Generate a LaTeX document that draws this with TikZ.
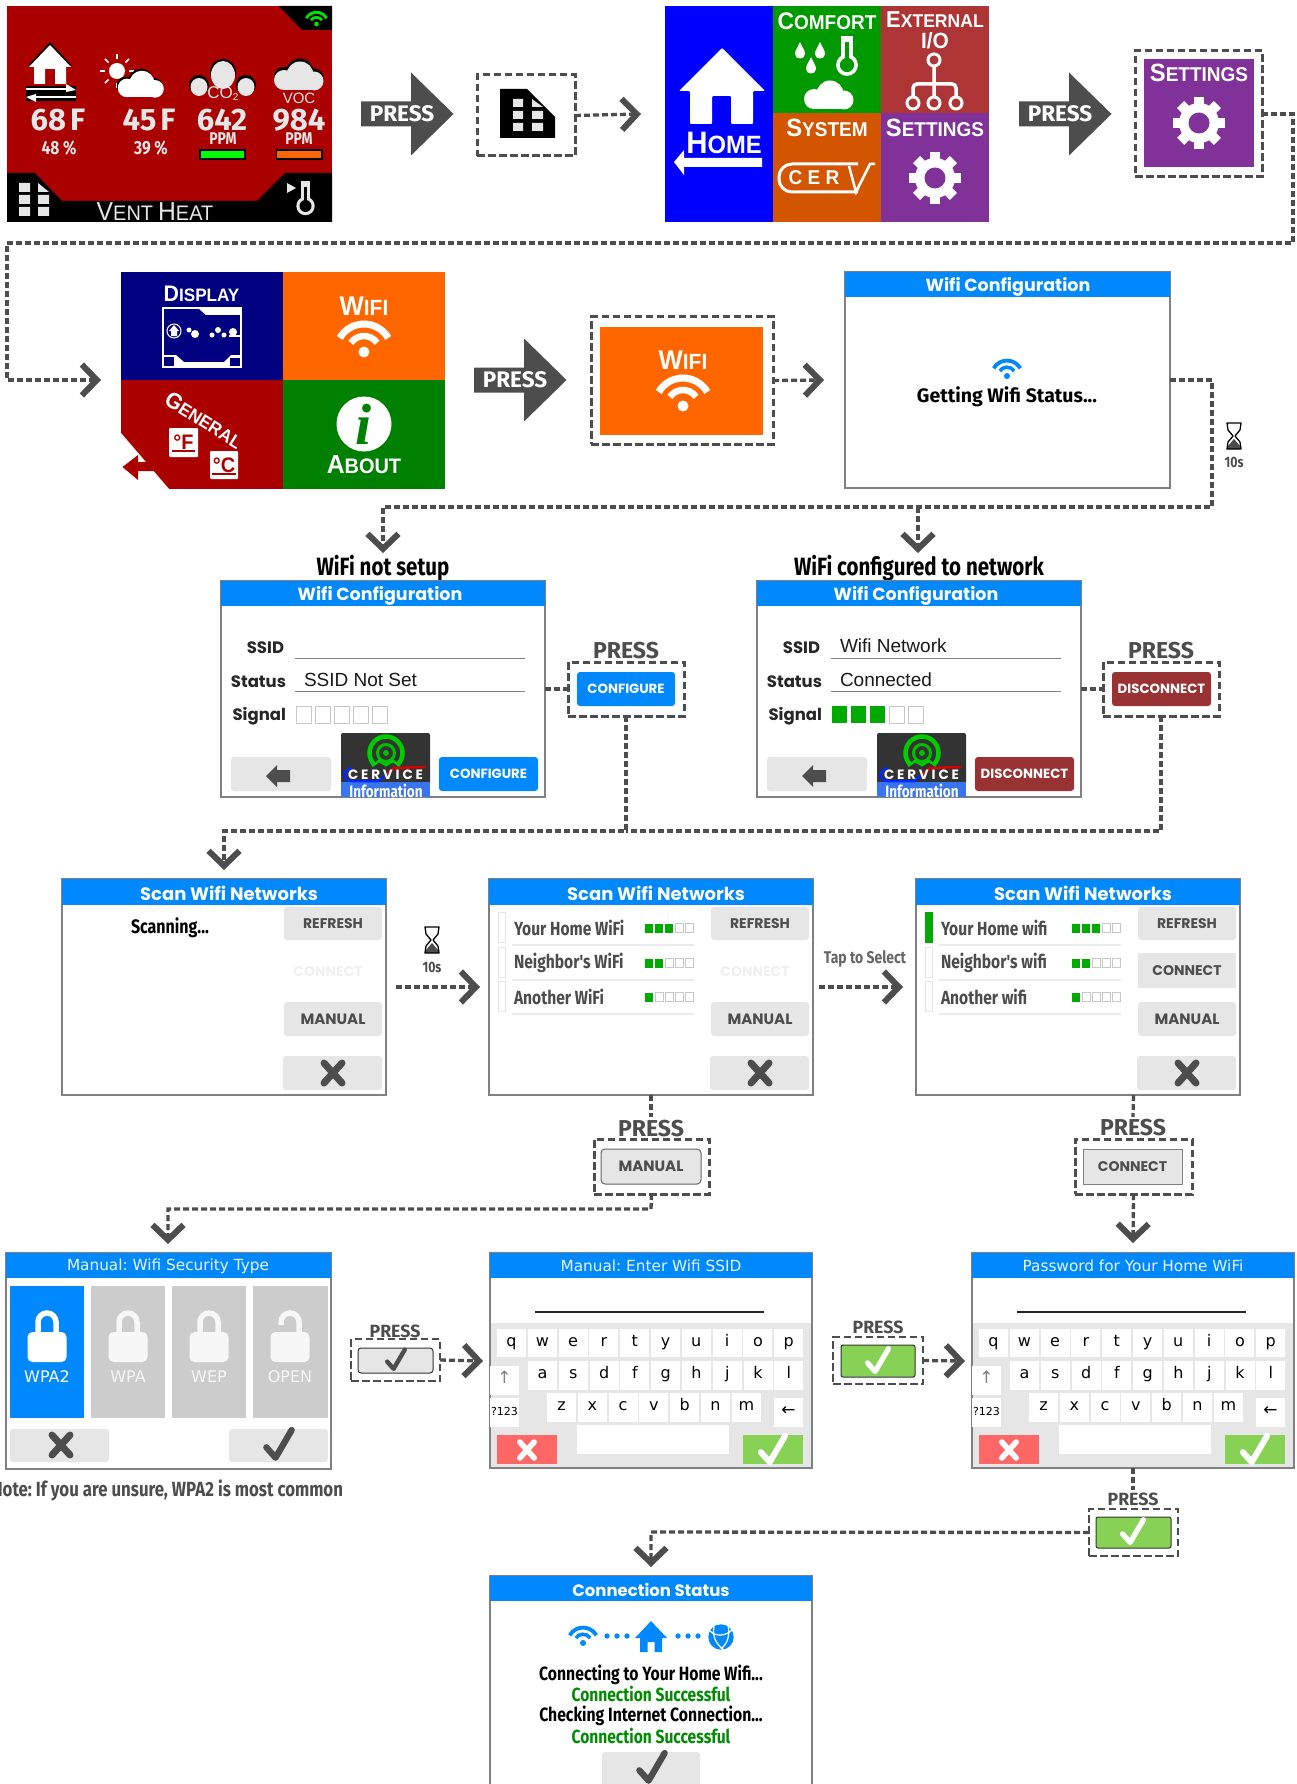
\documentclass[tikz,border=0pt]{standalone}
\usepackage{fontspec}
\usetikzlibrary{arrows.meta,calc}
\frenchspacing
\setmainfont{Liberation Sans}
\newfontfamily\ttlf{Poppins}
\newfontfamily\narf[FakeStretch=0.82]{Fira Sans}
\newfontfamily\firaw{Fira Sans}
\newfontfamily\djv{DejaVu Sans}
\newfontfamily\capf[FakeStretch=0.95]{Liberation Sans}
\definecolor{dk}{HTML}{4D4D4D}
\definecolor{bb}{HTML}{0088FF}
\definecolor{lg}{HTML}{E6E6E6}
\definecolor{okg}{HTML}{87D255}
\definecolor{sig}{HTML}{00AA00}
\definecolor{hred}{HTML}{AA0000}
\definecolor{infob}{HTML}{3A75F0}
\newcommand\fz[1]{\fontsize{#1}{#1}\selectfont}
\newcommand\smc[4]{{\fz{#1}#3\fz{#2}#4}}
\newcount\tcnt
\newcommand\tx[4]{\global\advance\tcnt by 1 \node[txt,#1] (t\the\tcnt) at (#2,#3) {#4};}
\newcommand\rnode[7]{%
 \pgfmathsetmacro\rnW{(#5)-(#3)}\pgfmathsetmacro\rnH{(#6)-(#4)}%
 \pgfmathsetmacro\rnX{((#3)+(#5))/2}\pgfmathsetmacro\rnY{((#4)+(#6))/2}%
 \node[rectangle,inner sep=0pt,outer sep=0pt,minimum width=\rnW pt,minimum height=\rnH pt,#1] (#2) at (\rnX,\rnY) {#7};}
\tikzset{
 txt/.style={inner sep=0pt,outer sep=0pt},
 conn/.style={draw=dk,line width=3.3pt,dash pattern=on 6pt off 3pt,-{Straight Barb[length=15pt,width=31pt,line width=6pt]}},
 dline/.style={draw=dk,line width=3.3pt,dash pattern=on 6pt off 3pt},
 dbox/.style={draw=dk,line width=3pt,dash pattern=on 7.5pt off 3.5pt},
 scr/.style={draw=gray,line width=1.2pt,fill=white},
 hdr/.style={fill=bb,text=white},
 btn/.style={fill=lg,rounded corners=3pt,text=dk},
 key/.style={fill=white,text=black,text height=9pt,text depth=3pt},
 btnf/.style={font=\ttlf\bfseries\fz{14}},
 ttl/.style={font=\ttlf\bfseries,text=white},
 lab/.style={font=\firaw\bfseries,text=dk},
}
% wifi icon: origin at dot
\newcommand\wifi[4]{\begin{scope}[shift={(#1,#2)},y=1pt,scale=#3]
 \fill[#4] (0,0) circle[radius=5.5];
 \draw[#4,line width=#3*6.5pt] (35:16) arc (35:145:16);
 \draw[#4,line width=#3*7pt] (30:28) arc (30:150:28);
\end{scope}}
\newcommand\gear[5]{\begin{scope}[shift={(#1,#2)},scale=#3]
 \fill[#4] (0,0) circle[radius=20];
 \foreach \a in {0,45,...,315} {\fill[#4,rotate=\a] (-5,-26) rectangle (5,0);}
 \fill[#5] (0,0) circle[radius=10.5];
\end{scope}}
\newcommand\cloud[4]{\begin{scope}[shift={(#1,#2)},y=1pt,scale=#3]
 \fill[#4] (-15,-1) circle[radius=10];
 \fill[#4] (1,4) circle[radius=13.5];
 \fill[#4] (15,-2) circle[radius=9.5];
 \fill[#4] (-15,-11) rectangle (15,0);
\end{scope}}
\newcommand\thermo[5]{\begin{scope}[shift={(#1,#2)},scale=#3]
 \fill[#4] (-6,-31) rectangle (6,-6);
 \fill[#4] (0,0) circle[radius=11.5];
 \fill[#5] (0,0) circle[radius=7.5];
 \fill[#5] (-2,-24) rectangle (2,-5);
\end{scope}}
\newcommand\drop[2]{\begin{scope}[shift={(#1,#2)}]
 \fill[white] (0,-10) .. controls (2,-5) and (5,-2) .. (5,2) .. controls (5,8) and (-5,8) .. (-5,2) .. controls (-5,-2) and (-2,-5) .. (0,-10) -- cycle;
\end{scope}}
\newcommand\xmk[4]{\begin{scope}[shift={(#1,#2)},scale=#3]
 \draw[#4,line width=#3*7pt,line cap=round] (-9,-10) -- (9,10) (9,-10) -- (-9,10);
\end{scope}}
\newcommand\ckm[4]{\begin{scope}[shift={(#1,#2)},scale=#3]
 \draw[#4,line width=#3*5.5pt,line cap=round,line join=round] (-11,2) -- (-3,11) -- (11,-13);
\end{scope}}
\newcommand\hglass[2]{\begin{scope}[shift={(#1,#2)}]
 \fill[dk] (0,3) -- (6,10) -- (6,13) -- (-6,13) -- (-6,10) -- cycle;
 \draw[black,line width=1.3pt,line join=round] (-7,-13) -- (7,-13) -- (6,-6) -- (1,0) -- (6,6) -- (7,13) -- (-7,13) -- (-6,6) -- (-1,0) -- (-6,-6) -- cycle;
\end{scope}}
\newcommand\press[3]{\begin{scope}[shift={(#2,#3)}]
 \fill[dk] (0,-12.5) -- (50,-12.5) -- (50,-41.5) -- (92.5,0) -- (50,41.5) -- (50,12.5) -- (0,12.5) -- cycle;
 \node[txt,text=white,font=\firaw\bfseries\fz{22.5}] (#1) at (41,0) {PRESS};
\end{scope}}
\newcommand\sigsq[6]{% x y n w h pitch
 \foreach \i in {1,...,5} {
  \pgfmathsetmacro\sx{#1+(\i-1)*#6}
  \ifnum\i>#3\relax \draw[draw=black!22,fill=white,line width=.9pt] (\sx,#2) rectangle ++(#4,#5);
  \else \fill[sig] (\sx,#2) rectangle ++(#4,#5); \fi}}
\newcommand\gridicon[3]{\begin{scope}[shift={(#1,#2)}]
 \fill[#3] (0,0) rectangle (11,9) (0,12) rectangle (11,21) (0,24) rectangle (11,33);
 \fill[#3] (19,12) rectangle (30,21) (19,24) rectangle (30,33);
 \fill[#3] (19,0) -- (30,9) -- (19,9) -- cycle;
\end{scope}}
\newcommand\wifiscr[8]{% name dx ssid status n btnlabel btncolor heading
 \begin{scope}[shift={(#2,0)}]
 \rnode{scr}{#1}{221}{581}{545}{797}{}
 \rnode{hdr}{#1h}{221}{581}{545}{606}{}
 \tx{ttl,font=\ttlf\bfseries\fz{17.5}}{380}{596}{Wifi Configuration}
 \tx{anchor=east,font=\ttlf\bfseries\fz{16.5},text=black!85}{284}{648}{SSID}
 \tx{anchor=east,font=\ttlf\bfseries\fz{16.5},text=black!85}{286}{682}{Status}
 \tx{anchor=east,font=\ttlf\bfseries\fz{16.5},text=black!85}{286}{716}{Signal}
 \draw[gray,line width=1pt] (295,658) -- (525,658) (295,691) -- (525,691);
 \tx{anchor=west,font=\fz{19},text=black!90}{304}{680}{#4}
 \tx{anchor=west,font=\fz{19},text=black!90}{304}{646}{#3}
 \sigsq{296}{706}{#5}{15}{17}{19}
 \rnode{btn}{#1b}{231}{757}{331}{791}{}
 \fill[dk] (266,776) -- (277,765) -- (277,770) -- (290,770) -- (290,782) -- (277,782) -- (277,787) -- cycle;
 % logo
 \fill[black!80,rounded corners=2pt] (341,733) rectangle (430,784);
 \fill[infob] (341,782) rectangle (430,797);
 \tx{text=white,font=\narf\bfseries\fz{16.5}}{386}{790.5}{Information}
 \begin{scope}[shift={(386,753)},y=1pt]
  \draw[green!80!black,line width=4.5pt] (-45:16.5) arc (-45:225:16.5);
  \draw[green!75!black,line width=3pt] (0,0) circle[radius=8.5];
  \fill[green!75!black] (0,0) circle[radius=3];
  \draw[green!80!black,line width=2.5pt] (-14,-13) -- (-7,-8) -- (0,-12) -- (7,-8) -- (14,-13);
 \end{scope}
 \draw[blue!70!bb,line width=2.5pt] (352,768) .. controls (342,770) and (342,781) .. (352,781) -- (378,781) -- (387,774);
 \draw[red!85!black,line width=2.5pt] (387,774) -- (394,768) -- (425,767);
 \tx{text=white,font=\ttlf\bfseries\fz{13.5}}{385.5}{775}{C E R V I C E}
 \rnode{fill=#7,text=white,rounded corners=3pt,btnf,font=\ttlf\bfseries\fz{13.3}}{#1c}{439}{757}{538}{791}{#6}
 \end{scope}}
\newcommand\scanscr[2]{% name dx
 \begin{scope}[shift={(#2,0)}]
 \rnode{scr}{#1}{62}{879}{386}{1095}{}
 \rnode{hdr}{#1h}{62}{879}{386}{905}{}
 \tx{ttl,font=\ttlf\bfseries\fz{18}}{229}{893}{Scan Wifi Networks}
 \rnode{btn,btnf}{#1r}{284}{907}{382}{940}{REFRESH}
 \rnode{btn,btnf,font=\ttlf\bfseries\fz{15}}{#1m}{284}{1002}{382}{1036}{MANUAL}
 \rnode{btn}{#1x}{283}{1056}{382}{1090}{}
 \xmk{333}{1073}{1}{dk}
 \end{scope}}
\newcommand\netrow[6]{% dx y text n tick-color slot
 \begin{scope}[shift={(#1,0)}]
 \pgfmathsetmacro\ya{#2-16}\pgfmathsetmacro\yb{#2+14}\pgfmathsetmacro\ys{#2+17}\pgfmathsetmacro\yq{#2-4.5}
 \draw[draw=#6,fill=#5,line width=.9pt] (71,\ya) rectangle (78,\yb);
 \draw[black!8,line width=1.8pt] (85,\ys) -- (267,\ys);
 \tx{anchor=west,text=black!70,font=\narf\bfseries\fz{19}}{87}{#2}{#3}
 \sigsq{218}{\yq}{#4}{8}{9}{10}
 \end{scope}}
\newcommand\keyboard[3]{% name dx title
 \begin{scope}[shift={(#2,0)}]
 \rnode{scr}{#1}{490}{1253}{812}{1468}{}
 \rnode{fill=lg}{#1g}{490}{1323}{812}{1468}{}
 \draw[gray,line width=1.2pt] (490,1253) rectangle (812,1468);
 \rnode{hdr,font=\djv\fz{15.3},text=white!92!bb}{#1h}{490}{1253}{812}{1278}{#3}
 \draw[black!85,line width=2pt] (535,1312) -- (764,1312);
 \foreach \c [count=\i from 0] in {q,w,e,r,t,y,u,i,o,p} {\rnode{key,font=\djv\fz{16}}{#1k\c}{497+30.8*\i}{1329}{526+30.8*\i}{1357}{\c}}
 \foreach \c [count=\i from 0] in {a,s,d,f,g,h,j,k,l} {\rnode{key,font=\djv\fz{16}}{#1k\c}{528+30.8*\i}{1361}{557+30.8*\i}{1390}{\c}}
 \foreach \c [count=\i from 0] in {z,x,c,v,b,n,m} {\rnode{key,font=\djv\fz{16}}{#1k\c}{547+30.8*\i}{1393}{576+30.8*\i}{1422}{\c}}
 \rnode{key,font=\djv\fz{17},text=gray}{#1up}{490}{1366}{519}{1395}{↑}
 \rnode{key,font=\djv\fz{11}}{#1num}{490}{1398}{519}{1427}{?123}
 \rnode{key,font=\djv\fz{17}}{#1bk}{774}{1398}{803}{1427}{←}
 \rnode{fill=white}{#1sp}{577}{1425}{729}{1454}{}
 \rnode{fill=red!60!white}{#1no}{497}{1435}{557}{1464}{}
 \rnode{fill=okg}{#1ok}{743}{1435}{803}{1464}{}
 \xmk{527}{1450}{.8}{white}
 \ckm{773}{1450}{1.1}{white}
 \end{scope}}
\newcommand\lockic[3]{\begin{scope}[shift={(#1,1322)},y=1pt]
 \ifnum#3=0 \draw[#2,line width=5.5pt] (-9,-14) -- (-9,0) arc (180:0:9) -- (9,-14);
 \else \draw[#2,line width=5.5pt] (9,-14) -- (9,0) arc (0:180:9) -- (-9,-3); \fi
 \fill[#2,rounded corners=5pt] (-19.5,-40) rectangle (19.5,-10);
\end{scope}}
\begin{document}
\begin{tikzpicture}[x=1pt,y=-1pt]
\useasboundingbox (0,0) rectangle (1296,1784);
\clip (0,0) rectangle (1296,1784);
\fill[white] (0,0) rectangle (1296,1784);

%% ---------- Home panel
\rnode{fill=hred}{home}{7}{6}{332}{222}{}
\fill[black] (279,6) -- (332,6) -- (332,30) -- (302,30) -- cycle;
\wifi{316.5}{24}{.42}{green!90!black}
\fill[black] (7,173) -- (35,173) -- (62,201) -- (257,201) -- (285,173) -- (332,173) -- (332,222) -- (7,222) -- cycle;
\gridicon{19}{183}{lg}
\tx{text=lg,font=\capf}{155}{212}{\smc{26}{21}{V}{ENT}\hspace{5pt}\smc{26}{21}{H}{EAT}}
\fill[lg] (287,183) -- (296,188) -- (287,193) -- cycle;
\thermo{305.5}{206}{.8}{lg}{black}
% house
\fill[black] (50,42) -- (72,66) -- (28,66) -- cycle;
\fill[white] (50,45) -- (71,67) -- (66,67) -- (66,84) -- (55,84) -- (55,69) -- (45,69) -- (45,84) -- (34,84) -- (34,67) -- (29,67) -- cycle;
\fill[black] (26,86) rectangle (76,101);
\draw[white,line width=2.5pt] (26,89) -- (73,89);
\fill[white] (66,84) -- (76,90) -- (66,92) -- cycle;
\draw[white,line width=2.5pt] (29,97) -- (76,97);
\fill[white] (36,94) -- (26,97) -- (36,102) -- cycle;
\fill[white] (117,71) circle[radius=8];
\foreach \a in {0,45,...,315} {\draw[white,line width=1.5pt] (117,71) ++(\a:12) -- ++(\a:5);}
\cloud{140}{85}{.93}{black}
\cloud{141}{87}{.93}{white}
\fill[black] (223,72) circle[radius=13];
\fill[black] (199,85) circle[radius=10];
\fill[black] (246,85) circle[radius=10];
\fill[lg] (223,75) ellipse[x radius=12,y radius=14];
\fill[lg] (199,87) ellipse[x radius=8.5,y radius=9];
\fill[lg] (246,87) ellipse[x radius=8.5,y radius=9];
\cloud{299}{76}{1}{black}
\cloud{299}{79}{1}{lg}
\tx{text=lg,font=\fz{17}}{223}{94}{CO\raisebox{-2pt}{\fz{10}2}}
\tx{text=lg,font=\fz{15}}{299}{98}{VOC}
\tx{text=lg,font=\firaw\bfseries\fz{31}}{58}{120}{68\hspace{4pt}F}
\tx{text=lg,font=\firaw\bfseries\fz{31}}{149}{120}{45\hspace{4pt}F}
\tx{text=lg,font=\firaw\bfseries\fz{31}}{222}{120}{642}
\tx{text=lg,font=\firaw\bfseries\fz{31}}{299}{120}{984}
\tx{text=lg,font=\narf\bfseries\fz{19}}{59}{148}{48 \%}
\tx{text=lg,font=\narf\bfseries\fz{19}}{151}{148}{39 \%}
\tx{text=lg,font=\narf\bfseries\fz{17}}{223}{139}{PPM}
\tx{text=lg,font=\narf\bfseries\fz{17}}{299}{139}{PPM}
\rnode{fill=green,draw=black,line width=1.2pt}{barco}{200}{150}{245}{159}{}
\rnode{fill=orange!80!red,draw=black,line width=1.2pt}{barvoc}{276.5}{150}{322}{159}{}

\press{pressa}{361}{114}
\rnode{dbox}{gridbox}{477}{75}{575}{156}{}
\fill[black] (500,89) -- (527,89) -- (555,117) -- (555,138) -- (500,138) -- cycle;
\fill[lg] (513,99) rectangle (523,107) (513,111) rectangle (523,119) (513,123) rectangle (523,131) (532,111) rectangle (543,119) (532,123) rectangle (543,131);
\fill[lg] (532,99) -- (543,107) -- (532,107) -- cycle;
\coordinate (tipa) at (641,114);
\draw[conn] (gridbox.east) -- (tipa);

%% ---------- Menu panel
\definecolor{purp}{HTML}{803299}
\definecolor{brick}{HTML}{AE3535}
\definecolor{sysor}{HTML}{D45500}
\rnode{fill=blue}{mhome}{664.5}{6}{773}{222}{}
\rnode{fill=green!60!black}{mcomf}{773}{6}{881}{113}{}
\rnode{fill=brick}{mext}{881}{6}{989}{113}{}
\rnode{fill=sysor}{msys}{773}{113}{881}{222}{}
\rnode{fill=purp}{mset}{881}{113}{989}{222}{}
\fill[white,rounded corners=1pt] (722,48) -- (765,91) -- (753,91) -- (753,124) -- (731,124) -- (731,96) -- (712,96) -- (712,124) -- (690,124) -- (690,91) -- (679,91) -- cycle;
\tx{text=white,font=\capf\bfseries}{724}{143}{\smc{31}{25}{H}{OME}}
\fill[white] (762,158) -- (684,158) -- (684,150) -- (674,162) -- (684,175) -- (684,167) -- (762,167) -- cycle;
\tx{text=white,font=\capf\bfseries}{827}{21}{\smc{24}{20}{C}{OMFORT}}
\drop{800}{52} \drop{820}{52} \drop{811}{67}
\thermo{847}{65}{.95}{white}{green!60!black}
\cloud{829}{98}{1}{white}
\tx{text=white,font=\capf\bfseries}{935}{20}{\smc{23}{18.5}{E}{XTERNAL}}
\tx{text=white,font=\capf\bfseries\fz{22}}{935}{41}{I/O}
\draw[white,line width=3pt] (934,60) circle[radius=6] (913,103) circle[radius=6] (934,103) circle[radius=6] (956,103) circle[radius=6];
\draw[white,line width=3.5pt,rounded corners=4pt] (934,66) -- (934,97) (913,97) -- (913,84) -- (956,84) -- (956,97);
\tx{text=white,font=\capf\bfseries}{827}{128}{\smc{25}{20}{S}{YSTEM}}
\draw[white,line width=3pt,rounded corners=13pt] (858,164) -- (779,164) -- (779,192) -- (858,192);
\tx{text=white,font=\capf\bfseries\fz{20}}{814}{178}{C E R}
\draw[white,line width=2.5pt] (849,166) -- (856,192) -- (870,164) -- (875,164);
\tx{text=white,font=\capf\bfseries}{935}{128}{\smc{25}{20}{S}{ETTINGS}}
\gear{935}{178}{1}{white}{purp}

\press{pressb}{1019}{114}
\rnode{dbox}{setbox}{1135}{51}{1262}{177}{}
\rnode{fill=purp}{setin}{1144}{59}{1254}{167}{}
\tx{text=white,font=\capf\bfseries}{1199}{73}{\smc{25}{20}{S}{ETTINGS}}
\gear{1199}{123}{1}{white}{purp}
\coordinate (tr) at (1293,243);
\coordinate (lft) at (7,380);
\coordinate (tipb) at (101,380);
\draw[conn] (setbox.east) -| (tr) -- (tr -| lft) -- (lft) -- (tipb);

%% ---------- Settings panel
\definecolor{wor}{HTML}{FF6600}
\rnode{fill=blue!50!black}{sdisp}{121}{272}{283}{380}{}
\rnode{fill=wor}{swifi}{283}{272}{445}{380}{}
\rnode{fill=hred}{sgen}{121}{380}{283}{489}{}
\rnode{fill=green!50!black}{sabout}{283}{380}{445}{489}{}
\tx{text=white,font=\capf\bfseries}{201.5}{294}{\smc{22.5}{18}{D}{ISPLAY}}
\draw[white,line width=1.3pt] (163,308) rectangle (241,367);
\fill[white] (198,308) -- (206,315) -- (241,315) -- (241,308) -- cycle;
\fill[white] (163,355) -- (176,355) -- (184,362) -- (224,362) -- (231,355) -- (241,355) -- (241,367) -- (163,367) -- cycle;
\draw[white,line width=1pt] (174,331) circle[radius=7];
\fill[white] (174,325) -- (179,331) -- (177,331) -- (177,336) -- (171,336) -- (171,331) -- (169,331) -- cycle;
\fill[white] (195,334) circle[radius=4];
\fill[white] (189,330) circle[radius=2.5];
\fill[white] (212,335) circle[radius=2.5];
\fill[white] (218,330) circle[radius=3];
\fill[white] (224,335) circle[radius=2.5];
\fill[white] (233,332) circle[radius=4];
\fill[white] (229,335) rectangle (240,337);
\fill[blue!50!black] (164,357) rectangle (174,366);
\fill[blue!50!black] (230,358) rectangle (240,366);
\tx{text=white,font=\capf\bfseries}{364}{306}{\smc{27}{22}{W}{IFI}}
\wifi{364}{352}{1}{white}
\tx{text=white,font=\capf\bfseries,rotate=-32}{204}{420}{\smc{22.5}{18}{G}{ENERAL}}
\fill[white] (121,433) -- (169,489) -- (121,489) -- cycle;
\fill[hred] (122.5,467) -- (138,455) -- (138,462) -- (155,462) -- (155,471) -- (138,471) -- (138,480) -- cycle;
\rnode{fill=white,rounded corners=1pt,text=hred,font=\capf\bfseries\fz{21}}{degf}{169}{428}{198}{457}{°F}
\draw[hred,line width=2pt] (172,451) -- (195,451);
\rnode{fill=white,rounded corners=1pt,text=hred,font=\capf\bfseries\fz{21}}{degc}{210}{451}{238}{479}{°C}
\draw[hred,line width=2pt] (212,474) -- (236,474);
\fill[white] (364,424) circle[radius=27.5];
\tx{text=green!50!black,font=\fontspec{Liberation Serif}\bfseries\itshape\fz{58}}{364}{424}{i}
\tx{text=white,font=\capf\bfseries}{364}{465}{\smc{26}{21}{A}{BOUT}}

\press{pressc}{474}{380}
\rnode{dbox}{wbox}{591}{317}{773}{444}{}
\rnode{fill=wor}{wbin}{600}{327}{763}{435}{}
\tx{text=white,font=\capf\bfseries}{683}{360}{\smc{27}{22}{W}{IFI}}
\wifi{683}{406}{1}{white}
\coordinate (tipc) at (824,380);
\draw[conn] (wbox.east) -- (tipc);

%% ---------- Getting status
\rnode{scr}{getscr}{845}{272}{1170}{488}{}
\rnode{hdr}{geth}{845}{272}{1170}{297}{}
\tx{ttl,font=\ttlf\bfseries\fz{17.5}}{1008}{287}{Wifi Configuration}
\wifi{1007}{376}{.55}{bb}
\tx{font=\firaw\bfseries\fz{19.5},text=black}{1007}{397}{Getting Wifi Status...}
\hglass{1234}{436}
\tx{font=\narf\bfseries\fz{15},text=dk}{1234}{462}{10s}
\coordinate (gr) at (1212,507);
\coordinate (gl) at (383,507);
\coordinate (gm) at (918,507);
\coordinate (tipd) at (383,553);
\coordinate (tipe) at (918,553);
\draw[conn] (getscr.east) -| (gr) -- (gl) -- (tipd);
\draw[conn] (gm) -- (tipe);

%% ---------- Wifi not setup / configured
\tx{font=\narf\bfseries\fz{25},text=black}{383}{568}{WiFi not setup}
\tx{font=\narf\bfseries\fz{25},text=black}{919}{568}{WiFi configured to network}
\wifiscr{cfga}{0}{}{SSID Not Set}{0}{CONFIGURE}{bb}{}
\definecolor{disc}{HTML}{993333}
\wifiscr{cfgb}{536}{Wifi Network}{Connected}{3}{DISCONNECT}{disc}{}
\tx{lab,font=\firaw\bfseries\fz{23}}{626}{651}{PRESS}
\rnode{dbox}{cbox}{568}{662}{684}{716}{}
\rnode{fill=bb,text=white,rounded corners=3pt,btnf,font=\ttlf\bfseries\fz{13.3}}{cbtn}{577}{672}{675}{706}{CONFIGURE}
\tx{lab,font=\firaw\bfseries\fz{23}}{1161}{651}{PRESS}
\rnode{dbox}{dbox2}{1103}{662}{1219}{716}{}
\rnode{fill=disc,text=white,rounded corners=3pt,btnf,font=\ttlf\bfseries\fz{13.3}}{dbtn}{1112}{672}{1211}{706}{DISCONNECT}
\coordinate (hz) at (626,831);
\coordinate (hzl) at (224,831);
\coordinate (hzr) at (1161,831);
\coordinate (tipf) at (224,870);
\draw[dline] (cfga.east |- cbox.west) -- (cbox.west);
\draw[dline] (cfgb.east |- dbox2.west) -- (dbox2.west);
\draw[conn] (cbox.south) -- (hz) -- (hzl) -- (tipf);
\draw[dline] (dbox2.south) -- (hzr) -- (hz);

%% ---------- Scan screens
\scanscr{sca}{0}
\scanscr{scb}{427}
\scanscr{scc}{854}
\tx{font=\narf\bfseries\fz{19.5},text=black}{170}{928}{Scanning...}
\tx{font=\ttlf\bfseries\fz{14},text=black!6}{328}{972}{CONNECT}
\tx{font=\ttlf\bfseries\fz{14},text=black!6}{755}{972}{CONNECT}
\netrow{427}{928}{Your Home WiFi}{3}{white}{black!10}
\netrow{427}{963}{Neighbor's WiFi}{2}{white}{black!10}
\netrow{427}{997}{Another WiFi}{1}{white}{black!10}
\netrow{854}{928}{Your Home wifi}{3}{sig}{sig}
\netrow{854}{963}{Neighbor's wifi}{2}{white}{black!10}
\netrow{854}{997}{Another wifi}{1}{white}{black!10}
\rnode{fill=lg,text=dk,btnf}{sccc}{1138}{953}{1236}{988}{CONNECT}
\hglass{432}{940}
\tx{font=\narf\bfseries\fz{15},text=dk}{432}{967}{10s}
\tx{font=\narf\bfseries\fz{17},text=black!60}{865}{959}{Tap to Select}
\coordinate (sa) at (396,987);
\coordinate (tipg) at (480,987);
\coordinate (sb) at (819,987);
\coordinate (tiph) at (903,987);
\draw[conn] (sa) -- (tipg);
\draw[conn] (sb) -- (tiph);

\tx{lab,font=\firaw\bfseries\fz{23}}{651}{1129}{PRESS}
\rnode{dbox}{mbox}{594}{1139}{709}{1194}{}
\rnode{btn,draw=black!60,line width=1pt,rounded corners=4pt,btnf,font=\ttlf\bfseries\fz{15}}{mbtn}{601}{1149}{701}{1184}{MANUAL}
\tx{lab,font=\firaw\bfseries\fz{23}}{1133}{1128}{PRESS}
\rnode{dbox}{nbox}{1075}{1139}{1192}{1194}{}
\rnode{fill=lg,text=dk,draw=gray,line width=1pt,btnf}{nbtn}{1083}{1149}{1182}{1184}{CONNECT}
\coordinate (ma) at (651,1117);
\coordinate (na) at (1133,1117);
\draw[dline] (scb.south) -- (ma);
\draw[dline] (nbox |- scc.south) -- (na);
\coordinate (mr) at (651,1209);
\coordinate (ml) at (168,1209);
\coordinate (tipi) at (168,1244);
\coordinate (tipj) at (1133,1243);
\draw[conn] (mbox.south) -- (mr) -- (ml) -- (tipi);
\draw[conn] (nbox.south) -- (tipj);

%% ---------- Security type
\rnode{scr}{sec}{6}{1253}{331}{1469}{}
\rnode{hdr}{sech}{6}{1253}{331}{1278}{}
\tx{font=\djv\fz{15.3},text=white!92!bb}{168}{1266}{Manual: Wifi Security Type}
\rnode{fill=bb}{ta}{10}{1286}{84}{1418}{}
\rnode{fill=black!20}{tb}{91}{1286}{165}{1418}{}
\rnode{fill=black!20}{tc}{172}{1286}{246}{1418}{}
\rnode{fill=black!20}{td}{253}{1286}{328}{1418}{}
\lockic{47}{white}{0}
\lockic{128}{white!85!black!20}{0}
\lockic{209}{white!85!black!20}{0}
\lockic{290}{white!85!black!20}{1}
\tx{font=\djv\fz{16},text=white}{47}{1377}{WPA2}
\tx{font=\djv\fz{16},text=white!85!black!20}{128}{1377}{WPA}
\tx{font=\djv\fz{16},text=white!85!black!20}{209}{1377}{WEP}
\tx{font=\djv\fz{16},text=white!85!black!20}{290}{1377}{OPEN}
\rnode{btn}{secx}{10}{1429}{109}{1462}{}
\rnode{btn}{secc}{229}{1429}{328}{1462}{}
\xmk{61}{1445}{1}{dk}
\ckm{279}{1445}{1.15}{dk}
\tx{anchor=east,font=\narf\bfseries\fz{20.5},text=dk}{343}{1490}{Note: If you are unsure, WPA2 is most common}
\tx{lab,font=\firaw\bfseries\fz{17.7}}{395}{1331}{PRESS}
\rnode{dbox,line width=2.4pt}{pbox}{351}{1339}{440}{1381}{}
\rnode{btn,draw=black!80,line width=1pt}{pbtn}{358}{1348}{433}{1373}{}
\ckm{396}{1360}{.8}{dk}
\coordinate (tipk) at (483,1361);
\draw[conn] (pbox.east) -- (tipk);

%% ---------- Keyboards
\keyboard{kba}{0}{Manual: Enter Wifi SSID}
\keyboard{kbb}{482}{Password for Your Home WiFi}
\tx{lab,font=\firaw\bfseries\fz{17.7}}{878}{1327}{PRESS}
\rnode{dbox,line width=2.4pt}{qbox}{833}{1337}{923}{1384}{}
\rnode{fill=okg,draw=black!80,line width=1pt,rounded corners=2pt}{qbtn}{841}{1345}{915}{1377}{}
\ckm{878}{1361}{.95}{white}
\coordinate (tipl) at (965,1361);
\draw[conn] (qbox.east) -- (tipl);
\coordinate (ka) at (1133,1490);
\draw[dline] (kbb.south) -- (ka);
\tx{lab,font=\firaw\bfseries\fz{17.7}}{1133}{1499}{PRESS}
\rnode{dbox,line width=2.4pt}{rbox}{1089}{1509}{1178}{1556}{}
\rnode{fill=okg,draw=black!80,line width=1pt,rounded corners=2pt}{rbtn}{1096}{1517}{1171}{1548}{}
\ckm{1133}{1532}{.95}{white}
\coordinate (rl) at (651,1532);
\coordinate (tipm) at (651,1567);
\draw[conn] (rbox.west) -- (rl) -- (tipm);

%% ---------- Connection status
\rnode{scr}{cst}{490}{1576}{812}{1800}{}
\rnode{hdr}{csth}{490}{1576}{812}{1601}{}
\tx{ttl,font=\ttlf\bfseries\fz{16.5}}{651}{1590}{Connection Status}
\wifi{583}{1643}{.55}{bb}
\fill[bb] (607,1636) circle[radius=2.7] (617,1636) circle[radius=2.7] (627,1636) circle[radius=2.7];
\fill[bb] (651,1621) -- (667,1638) -- (662,1638) -- (662,1652) -- (654.5,1652) -- (654.5,1642) -- (647.5,1642) -- (647.5,1652) -- (640,1652) -- (640,1638) -- (635,1638) -- cycle;
\fill[bb] (678,1636) circle[radius=2.7] (688,1636) circle[radius=2.7] (698,1636) circle[radius=2.7];
\fill[bb] (721,1637) circle[radius=12.7];
\draw[white,line width=1.2pt] (710,1631) .. controls (716,1637) and (726,1636) .. (732,1630) (714,1627) .. controls (712,1636) and (716,1644) .. (724,1650) (728,1625) .. controls (730,1635) and (728,1643) .. (721,1649);
\tx{font=\narf\bfseries\fz{19.2},text=black}{651}{1675}{Connecting to Your Home Wifi...}
\tx{font=\narf\bfseries\fz{19},text=green!55!black}{651}{1694}{Connection Successful}
\tx{font=\narf\bfseries\fz{19.2},text=black}{651}{1716}{Checking Internet Connection...}
\tx{font=\narf\bfseries\fz{19},text=green!55!black}{651}{1736}{Connection Successful}
\rnode{btn}{cstb}{602}{1752}{700}{1800}{}
\ckm{652}{1768}{1.15}{dk}
\end{tikzpicture}
\end{document}
